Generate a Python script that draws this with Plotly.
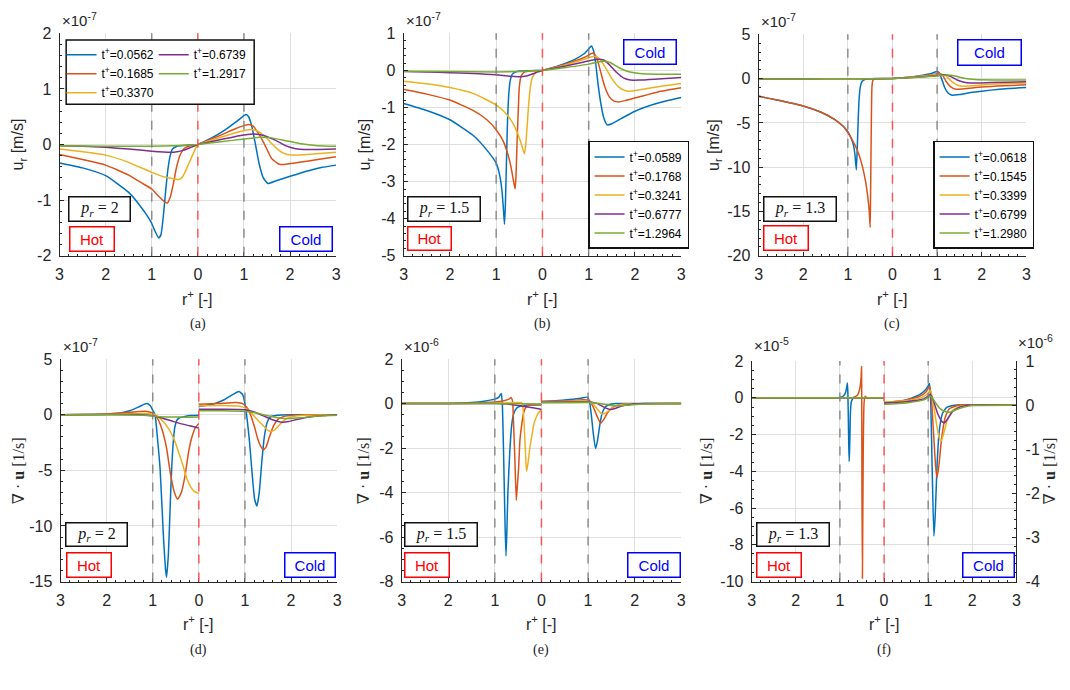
import plotly.graph_objects as go

W, H = 1070, 690
COLORS = ['#0072BD', '#D95319', '#EDB120', '#7E2F8E', '#77AC30']

# ---------------- labels ----------------
T_A = ['0.0562', '0.1685', '0.3370', '0.6739', '1.2917']
T_B = ['0.0589', '0.1768', '0.3241', '0.6777', '1.2964']
T_C = ['0.0618', '0.1545', '0.3399', '0.6799', '1.2980']
PR_VALUES = ['2', '1.5', '1.3', '2', '1.5', '1.3']
CAPTIONS = ['(a)', '(b)', '(c)', '(d)', '(e)', '(f)']
EXPONENTS = ['-7', '-7', '-7', '-7', '-6', '-5']
X_TICKS = [-3, -2, -1, 0, 1, 2, 3]
X_TICKTEXT = ['3', '2', '1', '0', '1', '2', '3']
Y_TICKS_A = [-2, -1, 0, 1, 2]
Y_TICKS_B = [-5, -4, -3, -2, -1, 0, 1]
Y_TICKS_C = [-20, -15, -10, -5, 0, 5]
Y_TICKS_D = [-15, -10, -5, 0, 5]
Y_TICKS_E = [-8, -6, -4, -2, 0, 2]
Y_TICKS_F = [-10, -8, -6, -4, -2, 0, 2]
Y_TICKS_F_RIGHT = [-4, -3, -2, -1, 0, 1]

# ---------------- data: (r+, value) pairs ----------------
# (a) u_r  [x1e-7 m/s]
A_HOT_1 = [(3, -0.33), (2.5, -0.42), (2, -0.56), (1.5, -0.86), (1.3, -1.05), (1.1, -1.28), (1.0, -1.42), (0.95, -1.52), (0.85, -1.68), (0.8, -1.62), (0.75, -1.3), (0.7, -0.85), (0.65, -0.45), (0.6, -0.2), (0.55, -0.08), (0.45, -0.03), (0.2, -0.01), (0, 0)]
A_HOT_2 = [(3, -0.18), (2.5, -0.27), (2, -0.37), (1.5, -0.55), (1.2, -0.7), (1.0, -0.8), (0.85, -0.93), (0.72, -1.03), (0.66, -1.05), (0.6, -0.95), (0.53, -0.7), (0.46, -0.4), (0.38, -0.18), (0.3, -0.07), (0.2, -0.03), (0, 0)]
A_HOT_3 = [(3, -0.08), (2.5, -0.13), (2, -0.19), (1.5, -0.32), (1.0, -0.5), (0.7, -0.59), (0.5, -0.62), (0.42, -0.63), (0.35, -0.6), (0.28, -0.5), (0.2, -0.35), (0.12, -0.2), (0.05, -0.07), (0, 0)]
A_HOT_4 = [(3, -0.02), (2.5, -0.03), (2, -0.05), (1.5, -0.08), (1.0, -0.12), (0.6, -0.14), (0.45, -0.13), (0.3, -0.1), (0.15, -0.05), (0, 0)]
A_HOT_5 = [(3, -0.02), (2, -0.03), (1, -0.03), (0.5, -0.02), (0, 0)]
A_COLD_1 = [(0, 0), (0.3, 0.12), (0.6, 0.27), (0.85, 0.42), (1.0, 0.52), (1.05, 0.54), (1.1, 0.5), (1.17, 0.33), (1.25, 0.0), (1.33, -0.35), (1.42, -0.6), (1.52, -0.7), (1.7, -0.65), (2.0, -0.57), (2.4, -0.47), (2.7, -0.41), (3, -0.37)]
A_COLD_2 = [(0, 0), (0.5, 0.17), (0.8, 0.28), (1.0, 0.34), (1.1, 0.36), (1.2, 0.33), (1.3, 0.22), (1.45, 0.0), (1.6, -0.25), (1.75, -0.35), (1.85, -0.36), (2.2, -0.32), (2.6, -0.27), (3, -0.22)]
A_COLD_3 = [(0, 0), (0.5, 0.13), (0.9, 0.23), (1.15, 0.27), (1.3, 0.24), (1.45, 0.15), (1.6, 0.02), (1.75, -0.1), (1.9, -0.17), (2.05, -0.19), (2.5, -0.17), (3, -0.14)]
A_COLD_4 = [(0, 0), (0.5, 0.09), (0.9, 0.16), (1.2, 0.19), (1.45, 0.16), (1.7, 0.07), (1.9, -0.02), (2.1, -0.07), (2.4, -0.09), (3, -0.08)]
A_COLD_5 = [(0, 0), (0.5, 0.05), (1.0, 0.1), (1.35, 0.13), (1.6, 0.12), (1.9, 0.07), (2.2, 0.02), (2.6, -0.02), (3, -0.03)]

# (b) u_r  [x1e-7 m/s]
B_HOT_1 = [(3, -0.89), (2.5, -1.08), (2, -1.33), (1.5, -1.75), (1.2, -2.15), (1.0, -2.5), (0.92, -2.85), (0.87, -3.3), (0.84, -3.8), (0.82, -4.15), (0.8, -3.6), (0.78, -2.6), (0.76, -1.6), (0.73, -0.7), (0.7, -0.3), (0.65, -0.1), (0.55, -0.03), (0.3, -0.01), (0, 0)]
B_HOT_2 = [(3, -0.51), (2.5, -0.64), (2, -0.8), (1.5, -1.08), (1.2, -1.33), (1.0, -1.6), (0.85, -1.9), (0.75, -2.25), (0.68, -2.6), (0.63, -2.95), (0.59, -3.2), (0.57, -2.8), (0.55, -2.0), (0.52, -1.0), (0.5, -0.45), (0.46, -0.15), (0.4, -0.05), (0.2, -0.01), (0, 0)]
B_HOT_3 = [(3, -0.29), (2.5, -0.36), (2, -0.46), (1.5, -0.62), (1.0, -0.93), (0.8, -1.15), (0.65, -1.4), (0.52, -1.75), (0.44, -2.05), (0.39, -2.25), (0.36, -2.0), (0.33, -1.5), (0.3, -0.95), (0.26, -0.45), (0.22, -0.2), (0.15, -0.07), (0.05, -0.01), (0, 0)]
B_HOT_4 = [(3, -0.03), (2.5, -0.04), (2, -0.06), (1.5, -0.08), (1.0, -0.12), (0.7, -0.16), (0.5, -0.17), (0.35, -0.15), (0.2, -0.09), (0.1, -0.04), (0, 0)]
B_HOT_5 = [(3, -0.02), (2, -0.03), (1, -0.04), (0.5, -0.03), (0.2, -0.01), (0, 0)]
B_COLD_1 = [(0, 0), (0.4, 0.15), (0.7, 0.3), (0.9, 0.45), (1.0, 0.58), (1.06, 0.66), (1.1, 0.55), (1.15, 0.2), (1.2, -0.35), (1.27, -0.95), (1.33, -1.3), (1.4, -1.47), (1.5, -1.44), (1.7, -1.3), (2.0, -1.1), (2.5, -0.88), (3, -0.73)]
B_COLD_2 = [(0, 0), (0.5, 0.17), (0.9, 0.35), (1.05, 0.45), (1.1, 0.47), (1.17, 0.35), (1.25, 0.0), (1.35, -0.45), (1.45, -0.72), (1.55, -0.83), (1.65, -0.85), (1.8, -0.81), (2.1, -0.71), (2.5, -0.58), (3, -0.47)]
B_COLD_3 = [(0, 0), (0.5, 0.15), (0.9, 0.3), (1.12, 0.38), (1.22, 0.33), (1.35, 0.1), (1.5, -0.22), (1.65, -0.45), (1.8, -0.55), (1.9, -0.56), (2.2, -0.5), (2.6, -0.42), (3, -0.35)]
B_COLD_4 = [(0, 0), (0.5, 0.12), (0.9, 0.23), (1.2, 0.3), (1.32, 0.28), (1.45, 0.15), (1.6, -0.05), (1.75, -0.2), (1.9, -0.26), (2.1, -0.26), (2.5, -0.23), (3, -0.19)]
B_COLD_5 = [(0, 0), (0.5, 0.08), (1.0, 0.17), (1.3, 0.25), (1.45, 0.22), (1.65, 0.08), (1.85, -0.03), (2.1, -0.08), (2.5, -0.1), (3, -0.1)]

# (c) u_r  [x1e-7 m/s]
C_HOT_1 = [(3, -2.0), (2.5, -2.5), (2, -3.1), (1.6, -3.8), (1.3, -4.6), (1.1, -5.4), (1.0, -6.0), (0.92, -6.8), (0.87, -7.6), (0.84, -8.6), (0.81, -10.3), (0.79, -8.0), (0.77, -5.0), (0.75, -2.5), (0.72, -0.9), (0.68, -0.3), (0.6, -0.08), (0.4, 0.0), (0, 0)]
C_HOT_2 = [(3, -2.0), (2.5, -2.5), (2, -3.1), (1.6, -3.8), (1.3, -4.6), (1.1, -5.4), (1.0, -6.1), (0.85, -7.4), (0.75, -8.6), (0.67, -10.0), (0.6, -11.7), (0.55, -13.5), (0.52, -15.0), (0.5, -16.8), (0.49, -13.0), (0.48, -8.0), (0.47, -3.5), (0.46, -1.0), (0.44, -0.2), (0.4, -0.03), (0, 0)]
C_HOT_3 = [(3, -0.03), (2, -0.03), (1, -0.02), (0.5, -0.01), (0, 0)]
C_HOT_4 = [(3, -0.03), (2, -0.03), (1, -0.02), (0.5, -0.01), (0, 0)]
C_HOT_5 = [(3, -0.03), (2, -0.03), (1, -0.02), (0.5, -0.01), (0, 0)]
C_COLD_1 = [(0, 0), (0.5, 0.25), (0.85, 0.55), (1.0, 0.8), (1.04, 0.7), (1.1, 0.0), (1.17, -1.0), (1.24, -1.6), (1.32, -1.86), (1.5, -1.8), (1.8, -1.55), (2.2, -1.3), (2.6, -1.12), (3, -1.0)]
C_COLD_2 = [(0, 0), (0.5, 0.22), (0.9, 0.45), (1.05, 0.6), (1.12, 0.4), (1.2, -0.3), (1.3, -0.9), (1.42, -1.2), (1.6, -1.15), (2.0, -0.95), (2.5, -0.8), (3, -0.7)]
C_COLD_3 = [(0, 0), (0.5, 0.2), (0.9, 0.4), (1.1, 0.5), (1.2, 0.3), (1.3, -0.2), (1.42, -0.65), (1.55, -0.85), (1.8, -0.8), (2.3, -0.62), (3, -0.5)]
C_COLD_4 = [(0, 0), (0.5, 0.15), (1.0, 0.35), (1.18, 0.45), (1.3, 0.25), (1.45, -0.15), (1.6, -0.4), (1.75, -0.5), (2.2, -0.45), (3, -0.35)]
C_COLD_5 = [(0, 0), (0.5, 0.12), (1.0, 0.3), (1.25, 0.42), (1.4, 0.3), (1.6, 0.05), (1.85, -0.1), (2.3, -0.15), (3, -0.15)]

# (d) div u  [x1e-7 1/s]
D_HOT_1 = [(3, 0), (2.5, 0.01), (2, 0.05), (1.7, 0.15), (1.5, 0.35), (1.3, 0.7), (1.18, 0.95), (1.12, 1.0), (1.05, 0.8), (1.0, 0.4), (0.95, 0.0), (0.9, -2.0), (0.84, -4.9), (0.77, -10.8), (0.72, -14.0), (0.7, -14.6), (0.66, -12.5), (0.62, -8.0), (0.59, -4.9), (0.55, -2.2), (0.52, -1.1), (0.47, -0.45), (0.41, -0.25), (0.3, -0.15), (0.15, -0.08), (0, -0.05)]
D_HOT_2 = [(3, 0), (2.5, 0.02), (2, 0.07), (1.6, 0.18), (1.3, 0.28), (1.12, 0.3), (1.0, 0.15), (0.9, -0.3), (0.8, -1.3), (0.7, -3.0), (0.62, -5.2), (0.53, -7.0), (0.46, -7.6), (0.38, -7.0), (0.3, -5.5), (0.22, -3.3), (0.15, -2.0), (0.08, -1.2), (0, -0.8)]
D_HOT_3 = [(3, 0), (2, 0.03), (1.5, 0.08), (1.1, 0.1), (0.95, 0.0), (0.8, -0.5), (0.65, -1.3), (0.52, -2.4), (0.42, -3.6), (0.35, -4.5), (0.27, -5.6), (0.19, -6.4), (0.1, -6.9), (0, -7.1)]
D_HOT_4 = [(3, 0), (2, 0.01), (1.3, 0.02), (1.0, -0.1), (0.8, -0.3), (0.6, -0.55), (0.4, -0.8), (0.2, -1.0), (0, -1.2)]
D_HOT_5 = [(3, 0), (2, 0), (1.2, -0.05), (0.9, -0.15), (0.6, -0.2), (0.3, -0.22), (0, -0.2)]
D_COLD_1 = [(0, 0.75), (0.3, 0.95), (0.55, 1.35), (0.75, 1.85), (0.87, 2.08), (0.95, 1.8), (1.0, 1.0), (1.05, -0.5), (1.1, -2.5), (1.16, -5.5), (1.21, -7.6), (1.26, -8.2), (1.31, -7.0), (1.36, -4.5), (1.42, -2.0), (1.48, -0.7), (1.55, -0.2), (1.7, -0.05), (2, 0), (3, 0)]
D_COLD_2 = [(0, 0.95), (0.4, 1.0), (0.8, 1.1), (0.95, 1.0), (1.05, 0.6), (1.12, 0.0), (1.2, -1.0), (1.28, -2.2), (1.35, -2.9), (1.4, -3.15), (1.46, -2.9), (1.53, -2.0), (1.62, -1.0), (1.72, -0.4), (1.85, -0.15), (2.1, -0.05), (2.5, 0), (3, 0)]
D_COLD_3 = [(0, 0.8), (0.5, 0.82), (0.9, 0.75), (1.05, 0.5), (1.15, 0.1), (1.28, -0.5), (1.4, -1.0), (1.5, -1.4), (1.57, -1.5), (1.65, -1.35), (1.75, -0.9), (1.85, -0.5), (2.0, -0.2), (2.3, -0.05), (3, 0)]
D_COLD_4 = [(0, 0.5), (0.5, 0.5), (1.0, 0.45), (1.2, 0.25), (1.4, -0.1), (1.6, -0.45), (1.8, -0.67), (1.95, -0.6), (2.15, -0.4), (2.4, -0.2), (2.7, -0.07), (3, 0)]
D_COLD_5 = [(0, 0.35), (0.5, 0.35), (1.0, 0.3), (1.25, 0.15), (1.5, -0.1), (1.75, -0.3), (1.95, -0.35), (2.2, -0.28), (2.6, -0.12), (3, -0.05)]

# (e) div u  [x1e-6 1/s]
E_HOT_1 = [(3, 0), (2.5, 0.0), (2, 0.01), (1.5, 0.05), (1.2, 0.12), (1.0, 0.2), (0.92, 0.28), (0.88, 0.4), (0.86, 0.45), (0.84, 0.0), (0.82, -1.5), (0.8, -3.5), (0.78, -5.5), (0.76, -6.85), (0.74, -5.6), (0.72, -4.0), (0.68, -2.2), (0.64, -1.0), (0.6, -0.48), (0.53, -0.2), (0.46, -0.12), (0.3, -0.06), (0, -0.05)]
E_HOT_2 = [(3, 0), (2, 0.0), (1.5, 0.02), (1.0, 0.07), (0.8, 0.13), (0.7, 0.2), (0.65, 0.27), (0.62, 0.1), (0.6, -0.8), (0.57, -2.5), (0.54, -4.35), (0.52, -3.8), (0.49, -2.9), (0.46, -1.6), (0.42, -0.9), (0.38, -0.4), (0.33, -0.15), (0.25, -0.06), (0, -0.05)]
E_HOT_3 = [(3, 0), (1.5, 0.01), (0.8, 0.03), (0.5, 0.05), (0.43, 0.05), (0.4, -0.1), (0.37, -1.0), (0.34, -2.3), (0.32, -3.05), (0.29, -2.7), (0.25, -2.0), (0.21, -1.5), (0.16, -0.9), (0.11, -0.6), (0.05, -0.38), (0, -0.26)]
E_HOT_4 = [(3, 0), (1.0, 0.0), (0.7, -0.03), (0.5, -0.08), (0.3, -0.15), (0.15, -0.2), (0, -0.26)]
E_HOT_5 = [(3, 0), (1, 0), (0.5, -0.01), (0, -0.02)]
E_COLD_1 = [(0, 0.1), (0.3, 0.13), (0.6, 0.18), (0.85, 0.24), (0.98, 0.29), (1.03, 0.1), (1.07, -0.5), (1.11, -1.3), (1.16, -2.02), (1.2, -1.7), (1.25, -1.0), (1.3, -0.45), (1.37, -0.15), (1.45, -0.05), (1.6, 0), (3, 0)]
E_COLD_2 = [(0, 0.1), (0.5, 0.12), (0.9, 0.17), (1.02, 0.15), (1.1, -0.1), (1.18, -0.5), (1.27, -0.88), (1.34, -0.7), (1.42, -0.4), (1.52, -0.18), (1.65, -0.06), (1.9, -0.01), (3, 0)]
E_COLD_3 = [(0, 0.08), (0.5, 0.1), (0.95, 0.12), (1.1, 0.0), (1.2, -0.25), (1.3, -0.47), (1.38, -0.42), (1.48, -0.25), (1.6, -0.1), (1.8, -0.03), (3, 0)]
E_COLD_4 = [(0, 0.06), (0.5, 0.07), (1.0, 0.08), (1.2, 0.0), (1.35, -0.17), (1.48, -0.27), (1.58, -0.22), (1.7, -0.12), (1.9, -0.04), (2.2, 0), (3, 0)]
E_COLD_5 = [(0, 0.04), (0.5, 0.05), (1.0, 0.06), (1.25, 0.0), (1.45, -0.07), (1.65, -0.1), (1.85, -0.07), (2.1, -0.03), (2.5, -0.01), (3, 0)]

# (f) div u  hot side [x1e-5 1/s] (left axis), cold side [x1e-6 1/s] (right axis)
F_HOT_1 = [(3, 0), (1.5, 0), (1.0, 0.02), (0.92, 0.1), (0.87, 0.3), (0.84, 0.65), (0.83, 0.8), (0.82, 0.3), (0.81, -1.0), (0.8, -2.5), (0.79, -3.46), (0.78, -2.8), (0.77, -1.6), (0.76, -0.7), (0.74, -0.2), (0.7, -0.03), (0.6, 0), (0, 0)]
F_HOT_2 = [(3, 0), (1.0, 0), (0.7, 0.02), (0.6, 0.15), (0.55, 0.5), (0.52, 1.1), (0.51, 1.69), (0.505, 0.0), (0.5, -5.0), (0.49, -9.82), (0.48, -6.0), (0.47, -2.5), (0.46, -0.8), (0.45, -0.2), (0.43, 0.08), (0.4, 0.02), (0.3, 0), (0, 0)]
F_HOT_3 = [(3, 0), (1.5, 0), (0, 0)]
F_HOT_4 = [(3, 0), (1.5, 0), (0, 0)]
F_HOT_5 = [(3, 0), (1.5, 0), (0, 0)]
F_COLD_1 = [(0, 0.05), (0.3, 0.08), (0.5, 0.12), (0.7, 0.19), (0.85, 0.27), (0.95, 0.36), (1.0, 0.44), (1.03, 0.49), (1.06, 0.0), (1.09, -1.4), (1.13, -2.97), (1.16, -2.5), (1.2, -1.4), (1.25, -0.6), (1.32, -0.2), (1.42, -0.05), (1.6, 0), (3, 0)]
F_COLD_2 = [(0, 0.06), (0.5, 0.12), (0.8, 0.2), (0.95, 0.3), (1.03, 0.43), (1.07, 0.2), (1.12, -0.6), (1.17, -1.4), (1.2, -1.64), (1.24, -1.4), (1.3, -0.8), (1.38, -0.3), (1.48, -0.08), (1.7, 0), (3, 0)]
F_COLD_3 = [(0, 0.07), (0.5, 0.1), (0.85, 0.17), (1.0, 0.27), (1.05, 0.33), (1.1, 0.15), (1.17, -0.3), (1.24, -0.7), (1.29, -0.82), (1.35, -0.65), (1.43, -0.35), (1.55, -0.12), (1.75, -0.02), (3, 0)]
F_COLD_4 = [(0, 0.05), (0.5, 0.08), (0.9, 0.14), (1.05, 0.24), (1.12, 0.1), (1.22, -0.2), (1.32, -0.38), (1.37, -0.4), (1.45, -0.3), (1.55, -0.15), (1.7, -0.05), (1.9, 0), (3, 0)]
F_COLD_5 = [(0, 0.02), (0.5, 0.05), (0.9, 0.12), (1.05, 0.2), (1.15, 0.08), (1.27, -0.08), (1.4, -0.15), (1.5, -0.16), (1.62, -0.11), (1.8, -0.05), (2.0, -0.01), (3, 0)]

# ---------------- layout helpers ----------------
def px(x):
    return x / W


def py(y):
    return 1 - y / H


INK = '#262626'
GRID = '#dfdfdf'
SANS = 'Liberation Sans, Arial, sans-serif'
SERIF = 'Liberation Serif, DejaVu Serif, serif'

PANELS = [
    dict(xd=(56, 335), yd=(26, 254), yr=(-2, 2), yt=Y_TICKS_A, ym=0.2,
         hot=[A_HOT_1, A_HOT_2, A_HOT_3, A_HOT_4, A_HOT_5],
         cold=[A_COLD_1, A_COLD_2, A_COLD_3, A_COLD_4, A_COLD_5],
         gap=False, labels=T_A, legends=['legend', 'legend', 'legend', 'legend2', 'legend2'],
         ytitle='u<sub>r</sub> [m/s]', serif=False, ytx=15, expy=24,
         hot_box=(89.2, 237, 43, 23), cold_box=(304.3, 237, 51, 23), pr_box=(96.3, 205.8, 60, 23)),
    dict(xd=(403, 683), yd=(26, 254), yr=(-5, 1), yt=Y_TICKS_B, ym=0.2,
         hot=[B_HOT_1, B_HOT_2, B_HOT_3, B_HOT_4, B_HOT_5],
         cold=[B_COLD_1, B_COLD_2, B_COLD_3, B_COLD_4, B_COLD_5],
         gap=False, labels=T_B, legends=['legend3'] * 5,
         ytitle='u<sub>r</sub> [m/s]', serif=False, ytx=365, expy=24,
         hot_box=(429.5, 236.7, 42, 22), cold_box=(651.7, 45, 51, 23), pr_box=(443.8, 206.2, 71, 23)),
    dict(xd=(761, 1031), yd=(27, 254), yr=(-20, 5), yt=Y_TICKS_C, ym=1,
         hot=[C_HOT_1, C_HOT_2, C_HOT_3, C_HOT_4, C_HOT_5],
         cold=[C_COLD_1, C_COLD_2, C_COLD_3, C_COLD_4, C_COLD_5],
         gap=False, labels=T_C, legends=['legend4'] * 5,
         ytitle='u<sub>r</sub> [m/s]', serif=False, ytx=716, expy=25,
         hot_box=(788.2, 236.3, 43, 23), cold_box=(993.5, 45.8, 62, 24), pr_box=(802.8, 205.8, 71, 23)),
    dict(xd=(57, 336), yd=(360, 588), yr=(-15, 5), yt=Y_TICKS_D, ym=1,
         hot=[D_HOT_1, D_HOT_2, D_HOT_3, D_HOT_4, D_HOT_5],
         cold=[D_COLD_1, D_COLD_2, D_COLD_3, D_COLD_4, D_COLD_5],
         gap=True, labels=T_A, legends=None,
         ytitle='∇ · <b>u</b> [1/s]', serif=True, ytx=14, expy=358,
         hot_box=(85.3, 571.3, 43, 23), cold_box=(308.3, 571.3, 49, 23), pr_box=(93, 540.2, 60, 22)),
    dict(xd=(401, 683), yd=(360, 588), yr=(-8, 2), yt=Y_TICKS_E, ym=0.5,
         hot=[E_HOT_1, E_HOT_2, E_HOT_3, E_HOT_4, E_HOT_5],
         cold=[E_COLD_1, E_COLD_2, E_COLD_3, E_COLD_4, E_COLD_5],
         gap=True, labels=T_B, legends=None,
         ytitle='∇ · <b>u</b> [1/s]', serif=True, ytx=362, expy=358,
         hot_box=(426.2, 571.3, 43, 23), cold_box=(656, 571.3, 51, 23), pr_box=(440.5, 540.2, 71, 22)),
    dict(xd=(754, 1021), yd=(362, 588), yr=(-10, 2), yt=Y_TICKS_F, ym=0.5,
         hot=[F_HOT_1, F_HOT_2, F_HOT_3, F_HOT_4, F_HOT_5],
         cold=[F_COLD_1, F_COLD_2, F_COLD_3, F_COLD_4, F_COLD_5],
         gap=True, labels=T_C, legends=None,
         ytitle='∇ · <b>u</b> [1/s]', serif=True, ytx=708, expy=357,
         hot_box=(781.5, 571.3, 43, 23), cold_box=(993, 571.3, 50, 23), pr_box=(795.8, 540.2, 71, 22)),
]

fig = go.Figure()
layout = dict(width=W, height=H, margin=dict(l=0, r=0, t=0, b=0),
              paper_bgcolor='white', plot_bgcolor='white', showlegend=True)
annotations = []
shapes = []


def ax_key(kind, i):
    return kind + ('axis' if i == 1 else 'axis%d' % i)


def ax_ref(kind, i):
    return kind if i == 1 else '%s%d' % (kind, i)


for i, P in enumerate(PANELS, start=1):
    xr, yr_ = ax_ref('x', i), ax_ref('y', i)
    layout[ax_key('x', i)] = dict(
        domain=[px(P['xd'][0]), px(P['xd'][1])], anchor=yr_, range=[-3, 3],
        tickmode='array', tickvals=X_TICKS, ticktext=X_TICKTEXT,
        ticks='inside', ticklen=4, tickwidth=1, tickcolor=INK,
        showline=True, linecolor=INK, linewidth=1, showgrid=True, gridcolor=GRID, gridwidth=1,
        zeroline=False, tickfont=dict(family=SANS, size=16, color=INK), ticklabelstandoff=4,
        minor=dict(tickmode='linear', tick0=0, dtick=0.2, ticks='inside', ticklen=2, tickcolor=INK, showgrid=False),
        fixedrange=True)
    layout[ax_key('y', i)] = dict(
        domain=[py(P['yd'][1]), py(P['yd'][0])], anchor=xr, range=list(P['yr']),
        tickmode='array', tickvals=P['yt'], ticktext=[str(v) for v in P['yt']],
        ticks='inside', ticklen=4, tickwidth=1, tickcolor=INK,
        showline=True, linecolor=INK, linewidth=1, showgrid=True, gridcolor=GRID, gridwidth=1,
        zeroline=False, tickfont=dict(family=SANS, size=16, color=INK), ticklabelstandoff=4,
        minor=dict(tickmode='linear', tick0=0, dtick=P['ym'], ticks='inside', ticklen=2, tickcolor=INK, showgrid=False),
        fixedrange=True)

    # reference lines r+=1 (both sides) and interface
    for xv, col in [(-1, '#7f7f7f'), (1, '#7f7f7f'), (0, '#ff4040')]:
        shapes.append(dict(type='line', xref=xr, yref=yr_ + ' domain', x0=xv, x1=xv, y0=0, y1=1,
                           line=dict(color=col, width=1.5, dash='dash'), layer='above', opacity=0.85))

    for k in range(5):
        hot, cold = P['hot'][k], P['cold'][k]
        hx = [-r for r, v in hot]
        hy = [v for r, v in hot]
        cx = [r for r, v in cold]
        cy = [v for r, v in cold]
        name = 't<sup>+</sup>=' + P['labels'][k]
        line = dict(color=COLORS[k], width=1.5, shape='spline', smoothing=0.5)
        if i == 6:
            fig.add_trace(go.Scatter(x=hx, y=hy, mode='lines', line=line, xaxis=xr, yaxis=yr_,
                                     showlegend=False, hoverinfo='skip'))
            fig.add_trace(go.Scatter(x=cx, y=cy, mode='lines', line=line, xaxis=xr, yaxis='y7',
                                     showlegend=False, hoverinfo='skip'))
        else:
            if P['gap']:
                xs, ys = hx + [None] + cx, hy + [None] + cy
            else:
                xs, ys = hx + cx, hy + cy
            tr = dict(x=xs, y=ys, mode='lines', line=line, xaxis=xr, yaxis=yr_, name=name, hoverinfo='skip')
            if P['legends']:
                tr['legend'] = P['legends'][k]
                tr['showlegend'] = True
            else:
                tr['showlegend'] = False
            fig.add_trace(go.Scatter(**tr))

    cx_mid = (P['xd'][0] + P['xd'][1]) / 2
    cy_mid = (P['yd'][0] + P['yd'][1]) / 2
    base = P['yd'][1]
    # exponent
    annotations.append(dict(xref='paper', yref='paper', x=px(P['xd'][0]), y=py(P['expy']),
                            xanchor='left', yanchor='bottom', showarrow=False,
                            text='×10<sup>%s</sup>' % EXPONENTS[i - 1],
                            font=dict(family=SANS, size=15, color=INK)))
    # x title
    annotations.append(dict(xref='paper', yref='paper', x=px(cx_mid), y=py(base + 43),
                            xanchor='center', yanchor='middle', showarrow=False,
                            text='r<sup>+</sup> [-]', font=dict(family=SANS, size=16, color=INK)))
    # caption
    annotations.append(dict(xref='paper', yref='paper', x=px(cx_mid), y=py(base + 70),
                            xanchor='center', yanchor='middle', showarrow=False,
                            text=CAPTIONS[i - 1], font=dict(family=SERIF, size=14, color='#222222')))
    # y title
    annotations.append(dict(xref='paper', yref='paper', x=px(P['ytx']), y=py(cy_mid),
                            xanchor='center', yanchor='middle', showarrow=False, textangle=-90,
                            text=P['ytitle'],
                            font=dict(family=SERIF if P['serif'] else SANS, size=16, color=INK)))
    # Hot / Cold / p_r boxes
    hbx, hby, hw, hh = P['hot_box']
    annotations.append(dict(xref='paper', yref='paper', x=px(hbx), y=py(hby), xanchor='center', yanchor='middle',
                            showarrow=False, text='Hot', width=hw, height=hh, borderpad=0,
                            bordercolor='#ff0000', borderwidth=1.5, bgcolor='white',
                            font=dict(family=SANS, size=15, color='#ff0000')))
    cbx, cby, cw, ch = P['cold_box']
    annotations.append(dict(xref='paper', yref='paper', x=px(cbx), y=py(cby), xanchor='center', yanchor='middle',
                            showarrow=False, text='Cold', width=cw, height=ch, borderpad=0,
                            bordercolor='#0000ff', borderwidth=1.5, bgcolor='white',
                            font=dict(family=SANS, size=15, color='#0000ff')))
    pbx, pby, pw, ph = P['pr_box']
    annotations.append(dict(xref='paper', yref='paper', x=px(pbx), y=py(pby), xanchor='center', yanchor='middle',
                            showarrow=False, text='<i>p<sub>r</sub></i> = ' + PR_VALUES[i - 1],
                            width=pw, height=ph, borderpad=0,
                            bordercolor='#111111', borderwidth=1.5, bgcolor='white',
                            font=dict(family=SERIF, size=16, color='#111111')))

# right axis of panel (f)
layout['yaxis7'] = dict(
    domain=layout['yaxis6']['domain'], anchor='x6', overlaying='y6', side='right', range=[-4, 1],
    tickmode='array', tickvals=Y_TICKS_F_RIGHT, ticktext=[str(v) for v in Y_TICKS_F_RIGHT],
    ticks='inside', ticklen=4, tickwidth=1, tickcolor=INK,
    showline=True, linecolor=INK, linewidth=1, showgrid=False, zeroline=False,
    tickfont=dict(family=SANS, size=16, color=INK), ticklabelstandoff=5,
    minor=dict(tickmode='linear', tick0=0, dtick=0.2, ticks='inside', ticklen=2, tickcolor=INK, showgrid=False),
    fixedrange=True)
annotations.append(dict(xref='paper', yref='paper', x=px(1021), y=py(354), xanchor='left', yanchor='bottom',
                        showarrow=False, text='×10<sup>-6</sup>', font=dict(family=SANS, size=15, color=INK)))
annotations.append(dict(xref='paper', yref='paper', x=px(1054), y=py(475), xanchor='center', yanchor='middle',
                        showarrow=False, textangle=-90, text='∇ · <b>u</b> [1/s]',
                        font=dict(family=SERIF, size=16, color=INK)))

# legend frame for (a) (two columns)
shapes.append(dict(type='rect', xref='paper', yref='paper', x0=px(62.7), x1=px(252.3), y0=py(98.7), y1=py(32.7),
                   line=dict(color='#111111', width=1.5), fillcolor='white', layer='above'))

LEG_FONT = dict(family=SANS, size=12, color='black')
layout['legend'] = dict(x=px(58), y=py(33), xanchor='left', yanchor='top', bgcolor='rgba(0,0,0,0)',
                        borderwidth=0, font=LEG_FONT, traceorder='normal')
layout['legend2'] = dict(x=px(151), y=py(33), xanchor='left', yanchor='top', bgcolor='rgba(0,0,0,0)',
                         borderwidth=0, font=LEG_FONT, traceorder='normal')
layout['legend3'] = dict(x=px(589), y=py(247), xanchor='left', yanchor='bottom', bgcolor='white',
                         bordercolor='#111111', borderwidth=1.5, font=LEG_FONT, traceorder='normal')
layout['legend4'] = dict(x=px(937), y=py(247), xanchor='left', yanchor='bottom', bgcolor='white',
                         bordercolor='#111111', borderwidth=1.5, font=LEG_FONT, traceorder='normal')

layout['annotations'] = annotations
layout['shapes'] = shapes
fig.update_layout(**layout)
fig.write_html('out.html')
